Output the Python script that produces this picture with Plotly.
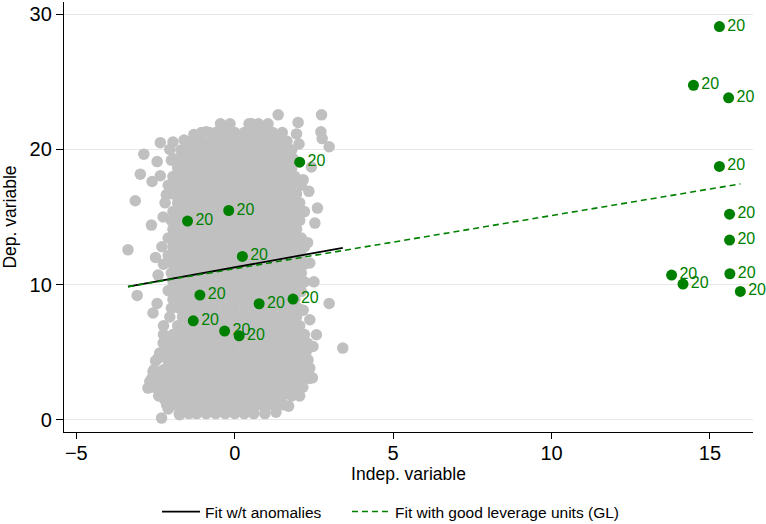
import plotly.graph_objects as go

# ---- gray cloud (regular units) ----
cloud_rows = [
    (0.45, [-1.75, -1.45, -1.2, -0.9, -0.6, -0.3, 0.0, 0.3, 0.6, 0.95]),
    (1.10, [-2.15, -1.95, -1.65, -1.35, -1.05, -0.75, -0.45, -0.15, 0.15, 0.45, 0.75, 1.05, 1.35, 1.55]),
    (1.75, [-2.4, -2.1, -1.8, -1.5, -1.2, -0.9, -0.6, -0.3, 0.0, 0.3, 0.6, 0.9, 1.2, 1.5, 1.8, 2.05]),
    (2.40, [-2.55, -2.25, -1.95, -1.65, -1.35, -1.05, -0.75, -0.45, -0.15, 0.15, 0.45, 0.75, 1.05, 1.35, 1.65, 1.95, 2.15]),
    (3.05, [-2.62, -2.4, -2.1, -1.8, -1.5, -1.2, -0.9, -0.6, -0.3, 0.0, 0.3, 0.6, 0.9, 1.2, 1.5, 1.8, 2.1, 2.35]),
    (3.70, [-2.55, -2.25, -1.95, -1.65, -1.35, -1.05, -0.75, -0.45, -0.15, 0.15, 0.45, 0.75, 1.05, 1.35, 1.65, 1.95, 2.25]),
    (4.35, [-2.5, -2.1, -1.8, -1.5, -1.2, -0.9, -0.6, -0.3, 0.0, 0.3, 0.6, 0.9, 1.2, 1.5, 1.8, 2.1, 2.3]),
    (5.00, [-2.25, -1.95, -1.65, -1.35, -1.05, -0.75, -0.45, -0.15, 0.15, 0.45, 0.75, 1.05, 1.35, 1.65, 1.95, 2.25]),
    (5.65, [-2.1, -1.8, -1.5, -1.2, -0.9, -0.6, -0.3, 0.0, 0.3, 0.6, 0.9, 1.2, 1.5, 1.8, 2.1, 2.3]),
    (6.30, [-2.25, -1.95, -1.65, -1.35, -1.05, -0.75, -0.45, -0.15, 0.15, 0.45, 0.75, 1.05, 1.35, 1.65, 1.95, 2.2]),
    (6.95, [-2.25, -1.8, -1.5, -1.2, -0.9, -0.6, -0.3, 0.0, 0.3, 0.6, 0.9, 1.2, 1.5, 1.8, 2.05]),
    (7.60, [-2.05, -1.65, -1.35, -1.05, -0.75, -0.45, -0.15, 0.15, 0.45, 0.75, 1.05, 1.35, 1.65, 1.95]),
    (8.25, [-2.0, -1.75, -1.5, -1.2, -0.9, -0.6, -0.3, 0.0, 0.3, 0.6, 0.9, 1.2, 1.5, 1.8, 2.0]),
    (8.90, [-1.95, -1.65, -1.35, -1.05, -0.75, -0.45, -0.15, 0.15, 0.45, 0.75, 1.05, 1.35, 1.65, 1.9]),
    (9.55, [-2.1, -1.8, -1.5, -1.2, -0.9, -0.6, -0.3, 0.0, 0.3, 0.6, 0.9, 1.2, 1.5, 1.8, 2.0]),
    (10.20, [-1.95, -1.65, -1.35, -1.05, -0.75, -0.45, -0.15, 0.15, 0.45, 0.75, 1.05, 1.35, 1.65, 1.95, 2.2]),
    (10.85, [-2.0, -1.8, -1.5, -1.2, -0.9, -0.6, -0.3, 0.0, 0.3, 0.6, 0.9, 1.2, 1.5, 1.8, 2.1]),
    (11.50, [-2.25, -1.95, -1.65, -1.35, -1.05, -0.75, -0.45, -0.15, 0.15, 0.45, 0.75, 1.05, 1.35, 1.65, 1.95, 2.2]),
    (12.15, [-2.1, -1.8, -1.5, -1.2, -0.9, -0.6, -0.3, 0.0, 0.3, 0.6, 0.9, 1.2, 1.5, 1.8, 2.1]),
    (12.80, [-2.3, -1.95, -1.65, -1.35, -1.05, -0.75, -0.45, -0.15, 0.15, 0.45, 0.75, 1.05, 1.35, 1.65, 1.95, 2.2]),
    (13.45, [-2.1, -1.8, -1.5, -1.2, -0.9, -0.6, -0.3, 0.0, 0.3, 0.6, 0.9, 1.2, 1.5, 1.8, 2.1]),
    (14.10, [-1.95, -1.65, -1.35, -1.05, -0.75, -0.45, -0.15, 0.15, 0.45, 0.75, 1.05, 1.35, 1.65, 1.95]),
    (14.75, [-2.0, -1.8, -1.5, -1.2, -0.9, -0.6, -0.3, 0.0, 0.3, 0.6, 0.9, 1.2, 1.5, 1.8, 2.05]),
    (15.40, [-1.95, -1.65, -1.35, -1.05, -0.75, -0.45, -0.15, 0.15, 0.45, 0.75, 1.05, 1.35, 1.65, 1.95, 2.2]),
    (16.05, [-2.2, -1.8, -1.5, -1.2, -0.9, -0.6, -0.3, 0.0, 0.3, 0.6, 0.9, 1.2, 1.5, 1.8, 2.05]),
    (16.70, [-1.95, -1.65, -1.35, -1.05, -0.75, -0.45, -0.15, 0.15, 0.45, 0.75, 1.05, 1.35, 1.65, 1.95]),
    (17.35, [-2.1, -1.8, -1.5, -1.2, -0.9, -0.6, -0.3, 0.0, 0.3, 0.6, 0.9, 1.2, 1.5, 1.8, 2.1]),
    (18.00, [-1.95, -1.65, -1.35, -1.05, -0.75, -0.45, -0.15, 0.15, 0.45, 0.75, 1.05, 1.35, 1.65, 1.9]),
    (18.65, [-1.8, -1.5, -1.2, -0.9, -0.6, -0.3, 0.0, 0.3, 0.6, 0.9, 1.2, 1.5, 1.8]),
    (19.30, [-1.9, -1.65, -1.35, -1.05, -0.75, -0.45, -0.15, 0.15, 0.45, 0.75, 1.05, 1.35, 1.65, 1.85]),
    (19.95, [-1.7, -1.5, -1.2, -0.9, -0.6, -0.3, 0.0, 0.3, 0.6, 0.9, 1.2, 1.5, 1.8]),
    (20.60, [-1.35, -1.05, -0.75, -0.45, -0.15, 0.15, 0.45, 0.75, 1.05, 1.35, 1.65]),
    (21.25, [-1.05, -0.8, -0.6, -0.3, 0.0, 0.3, 0.6, 0.9, 1.2, 1.5]),
    (21.90, [-0.45, -0.15, 0.45, 0.75, 1.05]),
]

# scattered gray units around the cloud
gray_out_x = [-2.35, -2.87, -2.98, -2.61, -2.35, -3.14, -2.16, -2.45, -1.6, -1.29, -0.9, -2.0,
              -3.37, -2.63, -3.08, -2.42, -2.58, -2.26,
              2.74, 2.72, 2.76, 2.98, 2.03, 2.0, 1.37, 2.42, 2.34, 2.61, 2.16,
              2.53, 2.37, 2.5, 2.98, 2.37, 2.16, 2.1,
              3.41, 2.58, 2.47, 2.31, 2.1, 2.37,
              -2.31, -2.58, -2.68, -2.74, -2.26, -2.37, -2.42, -2.21, -1.74, -1.26, 0.54,
              -2.05, -1.95, 1.95, -2.5, 2.3, -2.45, 2.45, -2.1, 1.3, 1.7]
gray_out_y = [20.5, 19.65, 18.17, 17.63, 18.05, 16.2, 16.64, 19.1, 20.7, 21.1, 21.3, 19.2,
              12.57, 14.4, 9.2, 10.7, 7.9, 15.0,
              22.56, 21.3, 20.8, 20.2, 20.4, 22.0, 22.56, 18.7, 16.9, 15.66, 17.75,
              14.55, 11.6, 10.2, 8.6, 7.4, 8.1, 9.5,
              5.3, 6.29, 5.42, 4.44, 2.46, 3.82,
              0.12, 3.57, 2.83, 2.34, 5.67, 4.93, 4.56, 1.48, 0.37, 0.5, 21.9,
              20.0, 20.55, 21.15, 12.0, 13.1, 8.6, 3.1, 0.8, 0.55, 1.0]

# good leverage units (green, labelled "20")
gl_x = [2.05, -0.19, -1.49, 0.24, -1.10, 0.77, 1.84, -1.31, -0.32, 0.14,
        15.30, 14.48, 15.59, 15.30, 15.62, 15.62, 15.63, 13.79, 14.15, 15.96]
gl_y = [19.06, 15.48, 14.70, 12.08, 9.22, 8.58, 8.93, 7.32, 6.56, 6.21,
        29.09, 24.75, 23.82, 18.74, 15.21, 13.29, 10.80, 10.70, 10.04, 9.49]
gl_labels = ["20"] * len(gl_x)

# fitted lines (end points)
fit_anom_x = [-3.37, 3.41]
fit_anom_y = [9.85, 12.72]
fit_gl_x = [-3.37, 15.96]
fit_gl_y = [9.85, 17.45]

x_ticks = [-5, 0, 5, 10, 15]
y_ticks = [0, 10, 20, 30]

gx = [x for _, xs in cloud_rows for x in xs] + gray_out_x
gy = [y for y, xs in cloud_rows for _ in xs] + gray_out_y

GRAY = "#c0c0c0"
GREEN = "#008000"
FONT = "Liberation Sans, Arial, sans-serif"

fig = go.Figure()
fig.add_trace(go.Scatter(x=gx, y=gy, mode="markers",
                         marker=dict(color=GRAY, size=11.5, line=dict(width=0)),
                         showlegend=False, hoverinfo="skip"))
fig.add_trace(go.Scatter(x=fit_anom_x, y=fit_anom_y, mode="lines",
                         line=dict(color="black", width=1.8),
                         name="Fit w/t anomalies", legend="legend"))
fig.add_trace(go.Scatter(x=fit_gl_x, y=fit_gl_y, mode="lines",
                         line=dict(color=GREEN, width=1.6, dash="6px,4px"),
                         name="Fit with good leverage units (GL)", legend="legend2"))
fig.add_trace(go.Scatter(x=gl_x, y=gl_y, mode="markers+text", text=gl_labels,
                         textposition="middle right", cliponaxis=False,
                         textfont=dict(color=GREEN, size=16, family=FONT),
                         marker=dict(color=GREEN, size=11, line=dict(width=0)),
                         showlegend=False, hoverinfo="skip"))

legend_common = dict(orientation="h", xanchor="left", yanchor="middle", y=-0.186,
                     itemwidth=38, font=dict(size=15.5), bgcolor="rgba(0,0,0,0)")

fig.update_layout(
    width=766, height=524,
    margin=dict(l=64, r=13, t=2, b=92, autoexpand=False),
    plot_bgcolor="white", paper_bgcolor="white",
    font=dict(family=FONT, color="black"),
    legend=dict(x=0.135, **legend_common),
    legend2=dict(x=0.4107, **legend_common),
    xaxis=dict(range=[-5.39, 16.36], tickvals=x_ticks, showgrid=False, zeroline=False,
               showline=True, linecolor="black", linewidth=1.3, automargin=False,
               ticks="outside", ticklen=6, tickcolor="black", tickwidth=1.3,
               tickfont=dict(size=20), ticklabelstandoff=-3,
               title=dict(text="Indep. variable", font=dict(size=17.5), standoff=1)),
    yaxis=dict(range=[-0.91, 30.91], tickvals=y_ticks, showgrid=True, gridcolor="#e8e8e8",
               gridwidth=1.2, zeroline=False, automargin=False,
               showline=True, linecolor="black", linewidth=1.3,
               ticks="outside", ticklen=7, tickcolor="black", tickwidth=1.3,
               tickfont=dict(size=20),
               title=dict(text="Dep. variable", font=dict(size=17.5), standoff=9)),
)

fig.write_html("out.html")
